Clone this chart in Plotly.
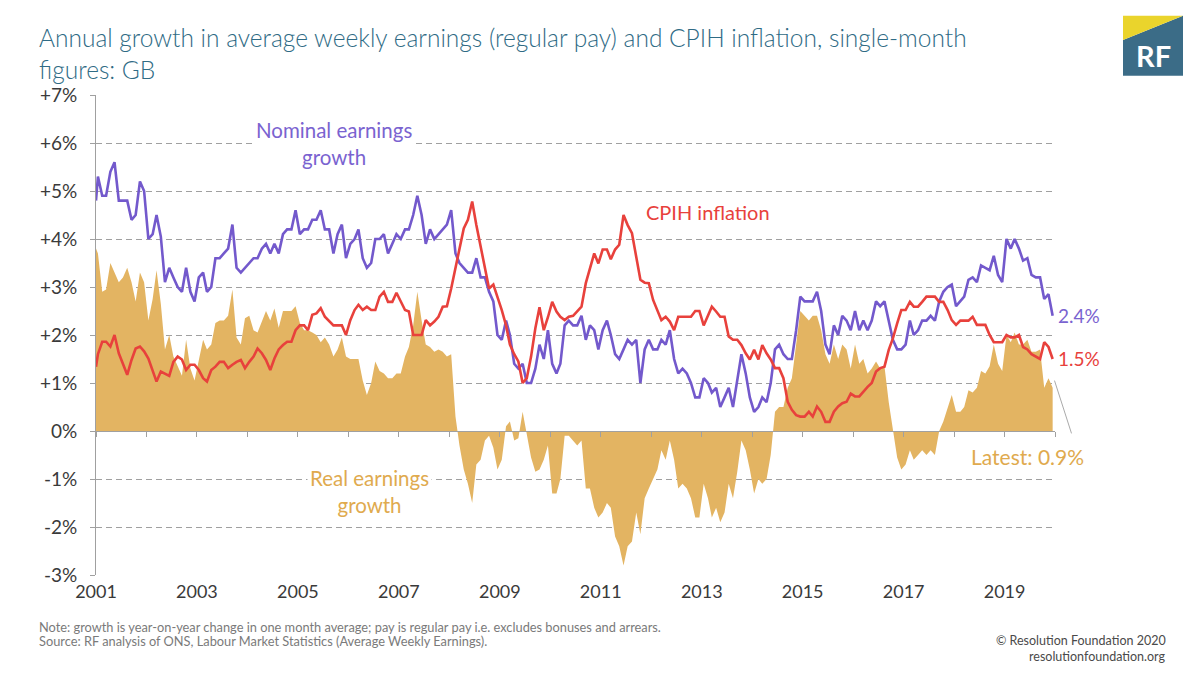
import pandas as pd
import plotly.graph_objects as go

# ---------------- data ----------------
# monthly points Jan 2001 - Dec 2019 (plotted mid-month); first entry = value where the line meets the left axis
start_date = "2001-01-01"
nominal_start, cpih_start, real_start = 4.8, 1.34, 3.8

nominal_growth = [
    5.3, 4.9, 4.9, 5.4, 5.6, 4.8, 4.8, 4.8, 4.4, 4.5, 5.2, 5.0,        # 2001
    4.0, 4.1, 4.5, 4.05, 3.1, 3.4, 3.2, 3.0, 2.9, 3.4, 2.9, 2.7,       # 2002
    3.2, 3.3, 2.9, 3.0, 3.6, 3.6, 3.7, 3.8, 4.3, 3.4, 3.3, 3.4,        # 2003
    3.5, 3.6, 3.6, 3.8, 3.9, 3.7, 3.9, 3.7, 4.1, 4.2, 4.2, 4.6,        # 2004
    4.1, 4.2, 4.2, 4.4, 4.4, 4.6, 4.2, 4.2, 3.7, 4.1, 4.3, 3.6,        # 2005
    3.9, 4.0, 4.2, 3.6, 3.4, 3.5, 4.0, 4.0, 4.1, 3.7, 3.9, 4.1,        # 2006
    4.0, 4.2, 4.2, 4.5, 4.9, 4.5, 3.9, 4.2, 4.0, 4.1, 4.2, 4.3,        # 2007
    4.6, 3.7, 3.5, 3.4, 3.3, 3.3, 3.6, 3.2, 3.2, 2.9, 2.7, 2.0,        # 2008
    1.9, 2.3, 2.0, 1.4, 1.3, 1.4, 1.0, 1.0, 1.3, 1.8, 1.5, 2.1,        # 2009
    1.4, 1.2, 1.4, 2.2, 2.3, 2.2, 2.2, 2.4, 1.9, 2.2, 2.1, 1.7,        # 2010
    2.1, 2.3, 2.0, 1.6, 1.5, 1.7, 1.9, 1.8, 1.9, 1.0, 1.7, 1.9,        # 2011
    1.7, 1.7, 1.9, 1.8, 2.1, 1.5, 1.2, 1.3, 1.2, 1.0, 0.7, 0.7,        # 2012
    1.1, 1.0, 0.8, 0.9, 0.5, 0.7, 0.9, 0.5, 1.05, 1.6, 1.2, 0.7,       # 2013
    0.4, 0.5, 0.7, 0.6, 1.0, 1.7, 1.8, 1.6, 1.5, 1.5, 2.1, 2.8,        # 2014
    2.7, 2.7, 2.7, 2.9, 2.5, 1.8, 1.6, 2.2, 2.0, 2.4, 2.3, 2.1,        # 2015
    2.5, 2.1, 2.3, 2.1, 2.3, 2.7, 2.6, 2.7, 2.3, 1.9, 1.7, 1.7,        # 2016
    1.8, 2.3, 2.0, 2.1, 2.3, 2.3, 2.4, 2.3, 2.7, 2.9, 3.0, 3.05,       # 2017
    2.6, 2.7, 2.8, 3.15, 3.2, 3.1, 3.45, 3.4, 3.35, 3.65, 3.25, 3.1,   # 2018
    4.0, 3.8, 4.0, 3.8, 3.55, 3.6, 3.25, 3.2, 3.2, 2.75, 2.85, 2.4,    # 2019
]

cpih_inflation = [
    1.6, 1.86, 1.86, 1.76, 2.0, 1.62, 1.41, 1.17, 1.48, 1.72, 1.76, 1.66,
    1.51, 1.24, 1.03, 1.24, 1.2, 1.15, 1.44, 1.55, 1.49, 1.27, 1.38, 1.38,
    1.27, 1.1, 1.03, 1.27, 1.34, 1.44, 1.44, 1.31, 1.38, 1.44, 1.48, 1.31,
    1.44, 1.55, 1.72, 1.62, 1.48, 1.27, 1.51, 1.7, 1.79, 1.86, 1.86, 2.1,
    2.2, 2.2, 2.1, 2.42, 2.45, 2.56, 2.38, 2.28, 2.2, 2.2, 2.2, 2.0,
    2.31, 2.52, 2.63, 2.52, 2.59, 2.52, 2.52, 2.8, 2.9, 2.69, 2.69, 2.88,
    2.69, 2.52, 2.49, 2.0, 2.0, 2.0, 2.31, 2.2, 2.28, 2.38, 2.59, 2.6,
    2.97, 3.39, 3.84, 4.22, 4.4, 4.78, 4.29, 3.84, 3.39, 2.97, 3.05, 2.8,
    2.52, 2.2, 1.8, 1.6, 1.45, 1.0, 1.1, 1.55, 2.14, 2.58, 2.1, 2.37,
    2.69, 2.49, 2.38, 2.31, 2.38, 2.4, 2.49, 2.59, 3.08, 3.39, 3.7, 3.49,
    3.78, 3.78, 3.58, 3.78, 3.88, 4.5, 4.29, 4.12, 3.6, 3.15, 3.09, 3.08,
    2.73, 2.52, 2.31, 2.38, 2.28, 2.1, 2.38, 2.38, 2.38, 2.38, 2.5, 2.5,
    2.2, 2.42, 2.59, 2.49, 2.38, 2.38, 1.97, 1.9, 1.9, 1.79, 1.62, 1.49,
    1.69, 1.49, 1.79, 1.62, 1.49, 1.31, 1.31, 1.1, 0.61, 0.44, 0.33, 0.3,
    0.3, 0.4, 0.3, 0.51, 0.4, 0.19, 0.19, 0.4, 0.51, 0.58, 0.61, 0.78,
    0.72, 0.72, 0.82, 0.92, 1.0, 1.24, 1.31, 1.34, 1.69, 1.93, 2.24, 2.52,
    2.52, 2.69, 2.59, 2.59, 2.69, 2.8, 2.8, 2.8, 2.69, 2.69, 2.52, 2.31,
    2.21, 2.3, 2.3, 2.3, 2.38, 2.21, 2.21, 2.21, 2.0, 1.85, 1.85, 1.85,
    2.0, 1.95, 1.95, 2.0, 1.75, 1.7, 1.6, 1.55, 1.5, 1.85, 1.75, 1.5,
]

real_growth = [
    3.7, 2.9, 2.95, 3.5, 3.3, 3.1, 3.2, 3.4, 3.1, 2.7, 3.3, 3.1,
    2.3, 2.75, 3.35, 2.65, 1.7, 2.0, 1.55, 1.35, 1.15, 1.9, 1.3, 1.05,
    1.5, 1.9, 1.7, 1.8, 2.25, 2.3, 2.3, 2.4, 2.95, 1.95, 1.8, 2.35,
    2.4, 2.1, 2.05, 2.3, 2.5, 2.3, 2.55, 2.15, 2.5, 2.5, 2.5, 2.6,
    2.25, 2.1, 2.1, 2.05, 2.0, 1.85, 1.95, 1.8, 1.55, 1.7, 1.95, 1.55,
    1.5, 1.5, 1.5, 1.05, 0.75, 1.0, 1.45, 1.25, 1.2, 1.1, 1.1, 1.2,
    1.2, 1.55, 1.75, 2.2, 2.9, 2.3, 1.8, 1.75, 1.65, 1.7, 1.65, 1.55,
    1.6, 0.3, -0.3, -0.8, -1.1, -1.5, -0.7, -0.6, -0.2, -0.1, -0.35, -0.8,
    -0.6, 0.1, 0.2, -0.2, -0.15, 0.4, -0.1, -0.55, -0.85, -0.8, -0.6, -0.3,
    -1.3, -1.3, -1.0, -0.1, -0.1, -0.2, -0.3, -0.2, -1.2, -1.2, -1.6, -1.8,
    -1.7, -1.5, -1.6, -2.2, -2.4, -2.8, -2.4, -2.3, -1.7, -2.15, -1.4, -1.2,
    -1.0, -0.8, -0.4, -0.6, -0.2, -0.6, -1.2, -1.1, -1.2, -1.4, -1.8, -1.8,
    -1.1, -1.4, -1.8, -1.6, -1.9, -1.7, -1.1, -1.4, -0.85, -0.2, -0.4, -0.8,
    -1.3, -1.0, -1.1, -1.0, -0.5, 0.4, 0.5, 0.5, 0.9, 1.1, 1.8, 2.5,
    2.4, 2.3, 2.4, 2.4, 2.1, 1.6, 1.4, 1.8, 1.5, 1.8, 1.7, 1.3,
    1.8, 1.4, 1.5, 1.2, 1.3, 1.45, 1.3, 1.35, 0.6, 0.0, -0.55, -0.8,
    -0.7, -0.4, -0.6, -0.5, -0.4, -0.5, -0.4, -0.5, 0.0, 0.2, 0.5, 0.75,
    0.4, 0.4, 0.5, 0.85, 0.8, 0.9, 1.25, 1.2, 1.35, 1.8, 1.4, 1.25,
    2.0, 1.85, 2.05, 1.8, 1.8, 1.9, 1.65, 1.65, 1.7, 0.9, 1.1, 0.9,
]

year_ticks = ["2001", "2003", "2005", "2007", "2009", "2011", "2013", "2015", "2017", "2019"]
y_tick_values = [-3, -2, -1, 0, 1, 2, 3, 4, 5, 6, 7]
y_tick_labels = ["-3%", "-2%", "-1%", "0%", "+1%", "+2%", "+3%", "+4%", "+5%", "+6%", "+7%"]

latest_nominal, latest_cpih, latest_real = "2.4%", "1.5%", "0.9%"

# ---------------- x positions ----------------
mid_months = list(pd.date_range("2001-01-01", periods=len(nominal_growth), freq="MS") + pd.Timedelta(days=14))
dates = [pd.Timestamp(start_date)] + mid_months
nom = [nominal_start] + nominal_growth
cpi = [cpih_start] + cpih_inflation
real = [real_start] + real_growth

# ---------------- styling ----------------
PURPLE = "#7359CC"
PURPLE_TXT = "#7A63D0"
RED = "#E8413C"
GOLD = "#E3B462"
GOLD_TXT = "#E0AA4E"
TEAL = "#2F6B85"
GRID = "#A0A0A0"
FONT = "Lato"

W, H = 1200, 675
L, R, T, B = 96, 1055, 95, 575


def px_x(px):
    return (px - L) / (R - L)


def px_y(py):
    return (B - py) / (B - T)


x_range = ["2001-01-01", "2020-01-01"]

fig = go.Figure()
fig.add_trace(go.Scatter(x=dates, y=real, mode="lines", line=dict(width=0, color=GOLD),
                         fill="tozeroy", fillcolor=GOLD, hoverinfo="skip", showlegend=False))
fig.add_trace(go.Scatter(x=dates, y=nom, mode="lines", line=dict(width=2.6, color=PURPLE),
                         showlegend=False))
fig.add_trace(go.Scatter(x=dates, y=cpi, mode="lines", line=dict(width=2.6, color=RED),
                         showlegend=False))
# dummy trace so the zero-line axis (with yearly ticks) is drawn
fig.add_trace(go.Scatter(x=[dates[1]], y=[None], xaxis="x2", mode="lines",
                         showlegend=False, hoverinfo="skip"))

fig.update_layout(
    width=W, height=H,
    margin=dict(l=L, r=W - R, t=T, b=H - B),
    paper_bgcolor="white", plot_bgcolor="white",
    font=dict(family=FONT, color="#3a3a3a"),
    showlegend=False,
    xaxis=dict(
        type="date", range=x_range,
        tickvals=[f"{y}-01-01" for y in year_ticks], ticktext=year_ticks,
        showgrid=False, zeroline=False, showline=False, ticks="",
        tickfont=dict(size=18, color="#3a3a3a"),
        ticklabelstandoff=4,
    ),
    xaxis2=dict(
        type="date", range=x_range, overlaying="x", anchor="free", position=0.3,
        side="bottom", showgrid=False, zeroline=False,
        showline=True, linecolor=GRID, linewidth=1,
        ticks="outside", ticklen=5, tickcolor=GRID, tickwidth=1,
        tickvals=[f"{y}-01-01" for y in range(2001, 2021)],
        showticklabels=False,
    ),
    yaxis=dict(
        range=[-3, 7], tickvals=y_tick_values, ticktext=y_tick_labels,
        showgrid=True, gridcolor=GRID, gridwidth=1, griddash="6px,4px",
        zeroline=False, showline=True, linecolor=GRID, linewidth=1,
        ticks="outside", ticklen=5, tickcolor=GRID,
        tickfont=dict(size=19, color="#3a3a3a"),
        ticklabelstandoff=9,
    ),
)

ann = []
# title (two lines in one text block)
ann.append(dict(xref="paper", yref="paper", x=px_x(37), y=px_y(53), xanchor="left", yanchor="middle",
                align="left",
                text="Annual growth in average weekly earnings (regular pay) and CPIH inflation, single-month<br>figures: GB",
                showarrow=False, font=dict(family=FONT, size=24.5, color=TEAL, weight=300)))
# series labels
ann.append(dict(x="2005-09-20", y=5.99, text="Nominal earnings<br>growth", showarrow=False,
                font=dict(family=FONT, size=20.5, color=PURPLE_TXT), bgcolor="white", borderpad=2))
ann.append(dict(x="2013-02-15", y=4.56, text="CPIH inflation", showarrow=False,
                font=dict(family=FONT, size=20, color=RED)))
ann.append(dict(x="2006-06-01", y=-1.26, text="Real earnings<br>growth", showarrow=False,
                font=dict(family=FONT, size=20.5, color=GOLD_TXT), bgcolor="white", borderpad=2))
# end labels
ann.append(dict(xref="paper", x=px_x(1056), y=2.4, xanchor="left", yanchor="middle", text=latest_nominal,
                showarrow=False, font=dict(family=FONT, size=19, color=PURPLE_TXT)))
ann.append(dict(xref="paper", x=px_x(1056), y=1.52, xanchor="left", yanchor="middle", text=latest_cpih,
                showarrow=False, font=dict(family=FONT, size=19, color=RED)))
ann.append(dict(xref="paper", x=px_x(1027), y=-0.54, xanchor="center", yanchor="middle",
                text="Latest: " + latest_real, showarrow=False, font=dict(family=FONT, size=21, color=GOLD_TXT)))
# footer
ann.append(dict(xref="paper", yref="paper", x=px_x(37), y=px_y(627), xanchor="left", yanchor="middle",
                text="Note: growth is year-on-year change in one month average; pay is regular pay i.e. excludes bonuses and arrears.",
                showarrow=False, font=dict(family=FONT, size=12.8, color="#7a7a7a")))
ann.append(dict(xref="paper", yref="paper", x=px_x(37), y=px_y(641), xanchor="left", yanchor="middle",
                text="Source: RF analysis of ONS, Labour Market Statistics (Average Weekly Earnings).",
                showarrow=False, font=dict(family=FONT, size=12.8, color="#7a7a7a")))
ann.append(dict(xref="paper", yref="paper", x=px_x(1168), y=px_y(640), xanchor="right", yanchor="middle",
                text="© Resolution Foundation 2020", showarrow=False, font=dict(family=FONT, size=12.5, color="#4a4a4a")))
ann.append(dict(xref="paper", yref="paper", x=px_x(1168), y=px_y(656), xanchor="right", yanchor="middle",
                text="resolutionfoundation.org", showarrow=False, font=dict(family=FONT, size=12.5, color="#4a4a4a")))
# logo text
ann.append(dict(xref="paper", yref="paper", x=px_x(1153), y=px_y(56), xanchor="center", yanchor="middle",
                text="<b>RF</b>", showarrow=False, font=dict(family=FONT, size=29, color="white")))
fig.update_layout(annotations=ann)

# leader line for the latest real label, and logo shapes
shapes = [
    dict(type="line", xref="paper", yref="y", x0=px_x(1054.5), y0=1.05, x1=px_x(1071.5), y1=-0.05,
         line=dict(color="#AAAAAA", width=1)),
    dict(type="path", xref="paper", yref="paper",
         path=f"M {px_x(1123)},{px_y(40)} L {px_x(1183)},{px_y(15.7)} L {px_x(1183)},{px_y(75.7)} L {px_x(1123)},{px_y(75.7)} Z",
         fillcolor="#3B6C87", line=dict(width=0)),
    dict(type="path", xref="paper", yref="paper",
         path=f"M {px_x(1123)},{px_y(15.7)} L {px_x(1183)},{px_y(15.7)} L {px_x(1123)},{px_y(40)} Z",
         fillcolor="#EAD42C", line=dict(width=0)),
]
fig.update_layout(shapes=shapes)

fig.write_html("out.html", config={"displayModeBar": False},
               post_script="document.body.style.margin='0px';document.body.style.overflow='hidden';")
